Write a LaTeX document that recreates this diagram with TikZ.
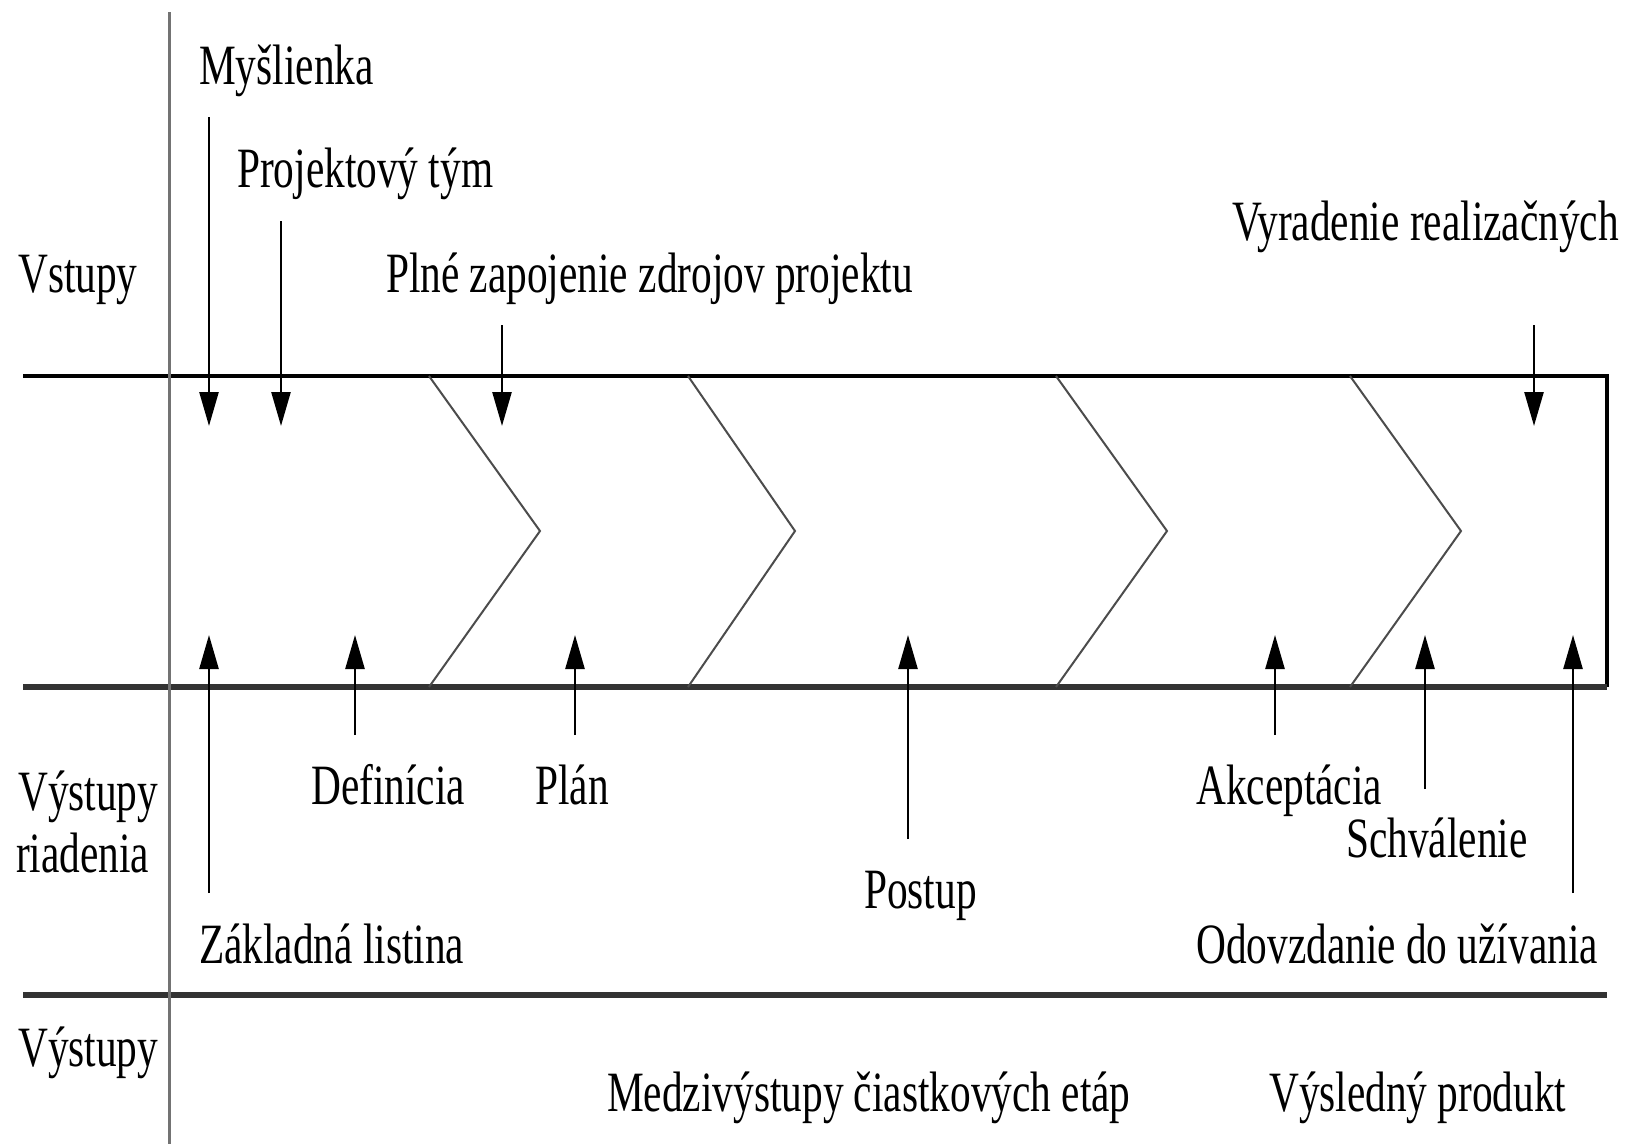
\documentclass[tikz,border=0pt]{standalone}
\usepackage{fontspec}
\setmainfont{Liberation Serif}[FakeStretch=0.725]
\usetikzlibrary{arrows.meta}

\begin{document}
\begin{tikzpicture}[
  x=1pt, y=-1pt,
  lbl/.style={anchor=base west, inner sep=0pt, font=\fontsize{57}{60}\selectfont},
  arrow/.style={-{Triangle[length=34pt,width=19pt]}, line width=2.5pt},
  band/.style={line width=5.5pt, black!80},
  chev/.style={line width=2pt, black!70}
]
\useasboundingbox (0,0) rectangle (1628,1144);

% frame of the phases
\draw[line width=4.5pt] (23,376) -- (1607,376) -- (1607,687);
\draw[band] (23,687) -- (1607,687);
\draw[band] (23,995) -- (1607,995);
\draw[line width=3pt, black!55] (169,12) -- (169,1144);
\foreach \xa/\xb in {429/540, 688/795, 1056/1167, 1350/1461}
  \draw[chev] (\xa,376) -- (\xb,531) -- (\xa,687);

% row labels
\node[lbl] (vstupy) at (18,292) {Vstupy};
\node[lbl] (vyriad1) at (18,810) {Výstupy};
\node[lbl] (vyriad2) at (16,872) {riadenia};
\node[lbl] (vystupy) at (18,1066) {Výstupy};

% inputs
\node[lbl] (mys) at (199,84) {Myšlienka};
\node[lbl] (tym) at (237,187) {Projektový tým};
\node[lbl] (zdroj) at (386,292) {Plné zapojenie zdrojov projektu};
\node[lbl] (vyrad) at (1232,240) {Vyradenie realizačných};

\coordinate (mysA) at (209,117);  \coordinate (mysB) at (209,426);
\coordinate (tymA) at (281,221);  \coordinate (tymB) at (281,426);
\coordinate (zdrA) at (502,325);  \coordinate (zdrB) at (502,426);
\coordinate (vyrA) at (1534,325); \coordinate (vyrB) at (1534,426);
\draw[arrow] (mysA) -- (mysB);
\draw[arrow] (tymA) -- (tymB);
\draw[arrow] (zdrA) -- (zdrB);
\draw[arrow] (vyrA) -- (vyrB);

% management outputs
\node[lbl] (defin) at (311,804) {Definícia};
\node[lbl] (plan) at (535,804) {Plán};
\node[lbl] (zakl) at (199,963) {Základná listina};
\node[lbl] (postup) at (864,908) {Postup};
\node[lbl] (akcep) at (1196,804) {Akceptácia};
\node[lbl] (schval) at (1346,857) {Schválenie};
\node[lbl] (odovz) at (1196,963) {Odovzdanie do užívania};

\coordinate (zakA) at (209,893);  \coordinate (zakB) at (209,635);
\coordinate (defA) at (355,735);  \coordinate (defB) at (355,635);
\coordinate (plaA) at (575,735);  \coordinate (plaB) at (575,635);
\coordinate (posA) at (908,839);  \coordinate (posB) at (908,635);
\coordinate (akcA) at (1275,735); \coordinate (akcB) at (1275,635);
\coordinate (schA) at (1425,789); \coordinate (schB) at (1425,635);
\coordinate (odoA) at (1573,893); \coordinate (odoB) at (1573,635);
\draw[arrow] (zakA) -- (zakB);
\draw[arrow] (defA) -- (defB);
\draw[arrow] (plaA) -- (plaB);
\draw[arrow] (posA) -- (posB);
\draw[arrow] (akcA) -- (akcB);
\draw[arrow] (schA) -- (schB);
\draw[arrow] (odoA) -- (odoB);

% outputs
\node[lbl] (medzi) at (607,1111) {Medzivýstupy čiastkových etáp};
\node[lbl] (produkt) at (1269,1111) {Výsledný produkt};
\end{tikzpicture}
\end{document}
